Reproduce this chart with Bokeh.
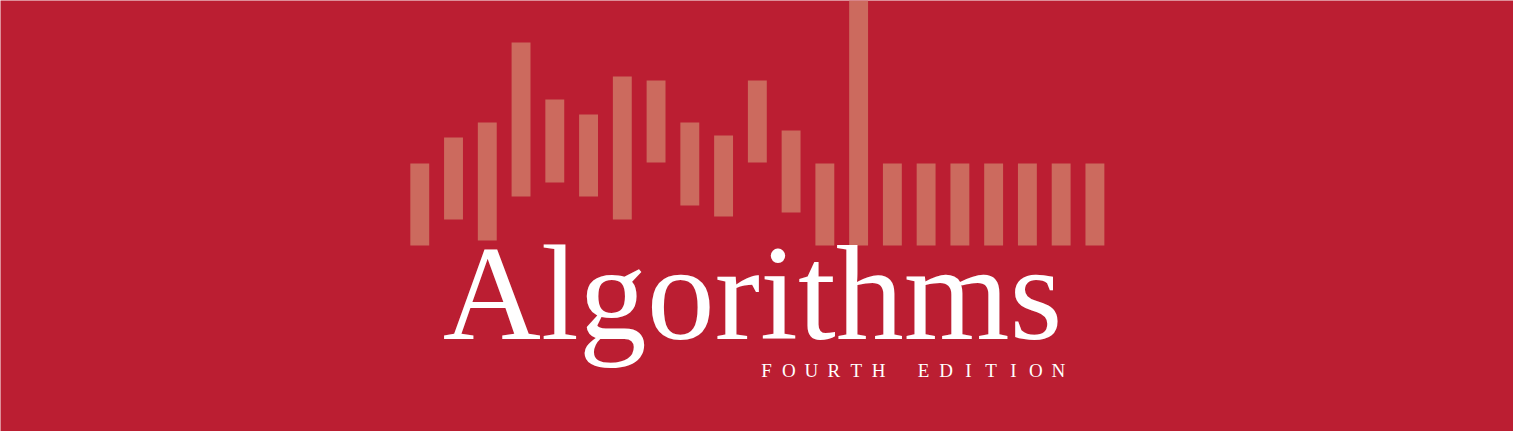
from bokeh.core.properties import value
from bokeh.embed import file_html
from bokeh.models import ColumnDataSource, Range1d
from bokeh.plotting import figure
from bokeh.resources import INLINE

# bar slots 1..21, each bar spans from low to high (px above the baseline)
slots = list(range(1, 22))
low = [0, 26, 5, 49, 63, 49, 26, 83, 40, 29, 83, 33, 0, 0, 0, 0, 0, 0, 0, 0, 0]
high = [82, 108, 123, 203, 146, 131, 169, 165, 123, 110, 165, 115, 82, 250,
        82, 82, 82, 82, 82, 82, 82]

title = "Algorithms"
subtitle = "FOURTH EDITION"

BG = "#bb1e32"
BAR = "#cc6a5e"

source = ColumnDataSource(data={"slot": slots, "low": low, "high": high})

p = figure(
    width=1513,
    height=431,
    x_range=Range1d(-11.42, 33.40),
    y_range=Range1d(-186, 245),
    output_backend="svg",
    toolbar_location=None,
    tools="",
    min_border=0,
    background_fill_color=BG,
    border_fill_color=BG,
)
p.axis.visible = False
p.grid.grid_line_color = None
p.outline_line_color = None

p.vbar(x="slot", bottom="low", top="high", width=0.56, source=source,
       fill_color=BAR, line_color=None)

p.text(x=[10.86], y=[-47], text=[title], text_align="center",
       text_baseline="alphabetic", text_color="white",
       text_font=value("Liberation Serif"), text_font_size="136px")

# letter-spaced subtitle, one glyph per slot
sub_chars = list(subtitle)
sub_x = [11.27 + 0.665 * i for i in range(len(sub_chars))]
p.text(x=sub_x, y=[-125] * len(sub_chars), text=sub_chars, text_align="center",
       text_baseline="alphabetic", text_color="white",
       text_font=value("Liberation Serif"), text_font_size="19px")

open("out.html", "w").write(file_html(p, INLINE))
